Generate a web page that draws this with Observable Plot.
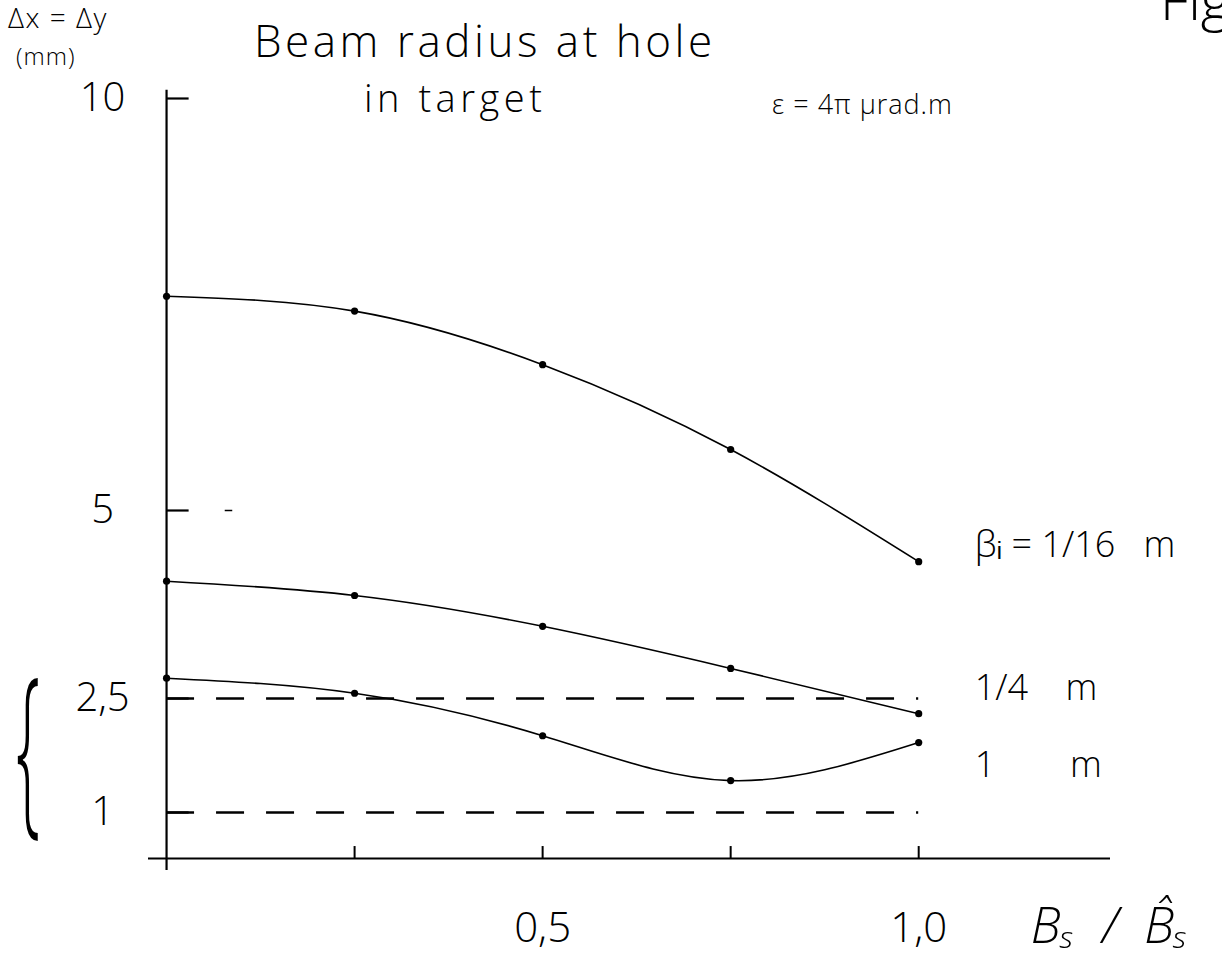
<!DOCTYPE html>
<html>
<head>
<meta charset="utf-8">
<script src="https://cdn.jsdelivr.net/npm/d3@7"></script>
<script src="https://cdn.jsdelivr.net/npm/@observablehq/plot@0.6"></script>
<style>
  html, body { margin: 0; padding: 0; background: #fff; }
  body { width: 1222px; height: 973px; position: relative; overflow: hidden;
         font-family: "Open Sans", "DejaVu Sans", sans-serif; font-weight: 300; color: #000; }
  .t { position: absolute; white-space: nowrap; line-height: 1; }
  #chart { position: absolute; left: 0; top: 0; }
</style>
</head>
<body>
<div id="chart"></div>
<div class="t" style="left:8px; top:3px; font-size:28px; letter-spacing:1.5px;">Δx = Δy</div>
<div class="t" style="left:16px; top:44px; font-size:24px; letter-spacing:1px;">(mm)</div>
<div class="t" style="left:254px; top:18px; font-size:44px; letter-spacing:3.5px;">Beam radius at hole</div>
<div class="t" style="left:364px; top:78px; font-size:38px; letter-spacing:4.5px;">in target</div>
<div class="t" style="left:772px; top:90px; font-size:27px; letter-spacing:1px;">ε = 4π μrad.m</div>
<div class="t" style="left:1160px; top:-30px; font-size:56px;">Fig.</div>
<div class="t" style="left:16px; top:645px; font-size:72px; font-weight:200; transform: scale(0.95, 2.6); transform-origin: left top;">{</div>
<script>
// ---- data ----
const xValues = [0, 0.25, 0.5, 0.75, 1.0];             // B_s / B̂_s
const beta116 = [7.60, 7.42, 6.77, 5.74, 4.32];       // β_i = 1/16 m
const beta14  = [4.06, 3.87, 3.46, 2.90, 2.30];       // β_i = 1/4 m
const beta1   = [2.77, 2.57, 2.01, 1.42, 1.92];       // β_i = 1 m
const seriesNames = ["βᵢ = 1/16   m", "1/4    m", "1        m"];
const labelY = [4.53, 2.63, 1.62];                     // label anchors (data units)
const refLines = [2.5, 1];                             // dashed reference levels
const yTicks = [10, 5, 2.5, 1];
const yTickLabels = ["10", "5", "2,5", "1"];
const xTicks = [0.25, 0.5, 0.75, 1.0];
const xTickLabelValues = [0.5, 1.0];
const xTickLabels = ["0,5", "1,0"];
const xTitle = "Bₛ  /  B̂ₛ";

const seriesValues = [beta116, beta14, beta1];
const rows = seriesValues.flatMap((vals, s) =>
  vals.map((v, i) => ({series: seriesNames[s], x: xValues[i], y: v})));
const labels = seriesNames.map((name, s) => ({name, x: xValues[xValues.length - 1], y: labelY[s]}));

const font = "'Open Sans', 'DejaVu Sans', sans-serif";

const chart = Plot.plot({
  width: 1222,
  height: 973,
  marginLeft: 148,
  marginRight: 112,
  marginTop: 90,
  marginBottom: 100,
  x: {domain: [-0.024, 1.255], axis: null},
  // the hand-drawn ordinate is piecewise: ticks 1, 2.5, 5, 10 are not evenly spaced
  y: {type: "linear", domain: [0, 1, 2.5, 5, 10], range: [858, 812, 698, 510, 98], axis: null},
  style: {fontFamily: font, fontWeight: 300, background: "white", overflow: "visible"},
  marks: [
    // axes lines
    Plot.ruleY([0], {x1: -0.024, x2: 1.255, stroke: "black", strokeWidth: 2}),
    Plot.ruleX([0], {y1: -0.26, y2: 10.1, stroke: "black", strokeWidth: 2.2}),
    // y ticks (drawn inward)
    Plot.ruleY(yTicks, {x1: 0, x2: 0.03, stroke: "black", strokeWidth: 2.2}),
    Plot.ruleY([5], {x1: 0.078, x2: 0.088, stroke: "black", strokeWidth: 1.5}),
    Plot.text(yTicks, {x: 0, y: d => d, text: (d, i) => yTickLabels[i], dx: -64, fontSize: 40, textAnchor: "middle", fill: "black"}),
    // x ticks (drawn upward)
    Plot.ruleX(xTicks, {y1: 0, y2: 0.26, stroke: "black", strokeWidth: 2}),
    Plot.text(xTickLabelValues, {x: d => d, y: 0, text: (d, i) => xTickLabels[i], dy: 70, fontSize: 42, textAnchor: "middle", fill: "black"}),
    // x axis title
    Plot.text([xTitle], {x: 1.0, y: 0, dx: 112, dy: 68, fontSize: 50, fontStyle: "italic", textAnchor: "start", fill: "black"}),
    // dashed reference lines
    Plot.ruleY(refLines, {x1: 0, x2: 1, stroke: "black", strokeWidth: 2.6, strokeDasharray: "28,22"}),
    // curves
    Plot.line(rows, {x: "x", y: "y", z: "series", curve: "natural", stroke: "black", strokeWidth: 1.6}),
    Plot.dot(rows, {x: "x", y: "y", r: 3.6, fill: "black"}),
    // series labels
    Plot.text(labels, {x: "x", y: "y", text: "name", dx: 56, fontSize: 36, textAnchor: "start", fill: "black"})
  ]
});
document.getElementById("chart").appendChild(chart);
</script>
</body>
</html>
